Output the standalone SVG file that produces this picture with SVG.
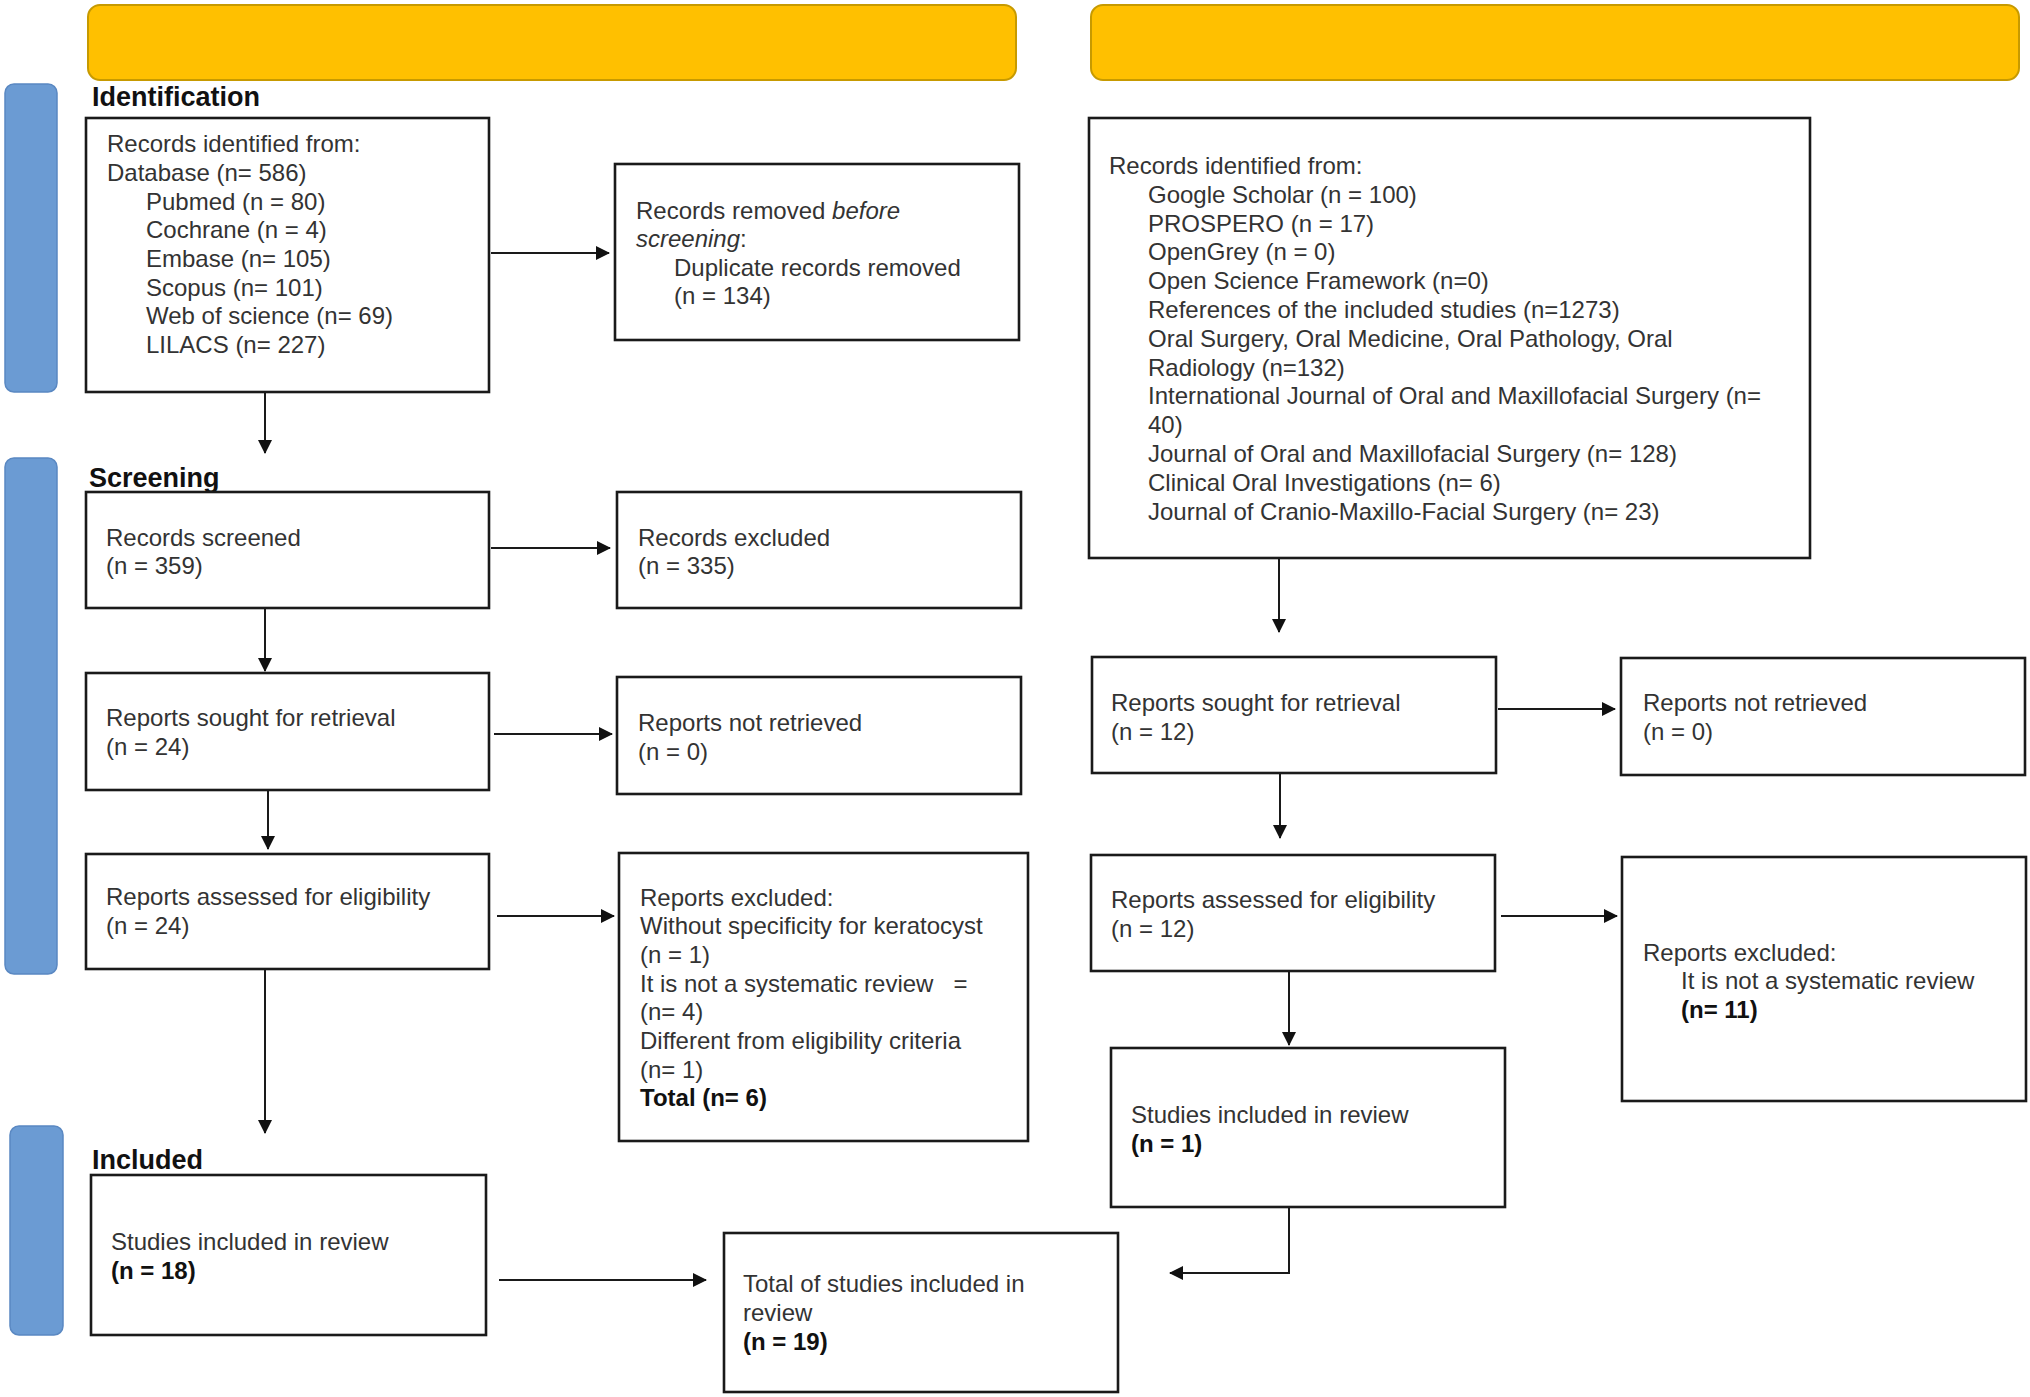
<svg xmlns="http://www.w3.org/2000/svg" width="2030" height="1397" viewBox="0 0 2030 1397">
<defs>
<marker id="ah" markerUnits="userSpaceOnUse" markerWidth="16" markerHeight="16" refX="13" refY="7" orient="auto">
<path d="M0,0 L14,7 L0,14 z" fill="#111"/>
</marker>
<style>
.box{fill:#fff;stroke:#1a1a1a;stroke-width:2.6}
.ybar{fill:#FFC000;stroke:#C79A00;stroke-width:2}
.bbar{fill:#6B9BD3;stroke:#5A88C2;stroke-width:1.5}
.t{font-family:"Liberation Sans",Arial,sans-serif;font-size:24px;fill:#333}
.b{font-weight:bold;fill:#111}
.lab{font-family:"Liberation Sans",Arial,sans-serif;font-size:27px;font-weight:bold;fill:#111}
.c{fill:none;stroke:#1a1a1a;stroke-width:2;marker-end:url(#ah)}
.c0{fill:none;stroke:#1a1a1a;stroke-width:2}
</style>
</defs>
<rect width="2030" height="1397" fill="#fff"/>

<g id="headers">
<rect class="ybar" x="88" y="5" width="928" height="75" rx="12"/>
<rect class="ybar" x="1091" y="5" width="928" height="75" rx="12"/>
</g>
<g id="phases">
<rect class="bbar" x="5" y="84" width="52" height="308" rx="9"/>
<rect class="bbar" x="5" y="458" width="52" height="516" rx="9"/>
<rect class="bbar" x="10" y="1126" width="53" height="209" rx="9"/>
<text class="lab" x="92" y="106">Identification</text>
<text class="lab" x="89" y="487">Screening</text>
<text class="lab" x="92" y="1169">Included</text>
</g>

<g id="connectors">
<path class="c" d="M491,253 H609"/>
<path class="c" d="M265,392 V453"/>
<path class="c" d="M491,548 H610"/>
<path class="c" d="M265,608 V671"/>
<path class="c" d="M494,734 H612"/>
<path class="c" d="M268,790 V849"/>
<path class="c" d="M497,916 H614"/>
<path class="c" d="M265,969 V1133"/>
<path class="c" d="M499,1280 H706"/>
<path class="c" d="M1279,558 V632"/>
<path class="c" d="M1498,709 H1615"/>
<path class="c" d="M1280,773 V838"/>
<path class="c" d="M1501,916 H1617"/>
<path class="c" d="M1289,972 V1045"/>
<path class="c" d="M1289,1207 V1273 H1170"/>
</g>

<g id="records-identified-db">
<rect class="box" x="86" y="118" width="403" height="274"/>
<text class="t" x="107" y="152">Records identified from:</text>
<text class="t" x="107" y="181">Database (n= 586)</text>
<text class="t" x="146" y="210">Pubmed (n = 80)</text>
<text class="t" x="146" y="238">Cochrane (n = 4)</text>
<text class="t" x="146" y="267">Embase (n= 105)</text>
<text class="t" x="146" y="296">Scopus (n= 101)</text>
<text class="t" x="146" y="324">Web of science (n= 69)</text>
<text class="t" x="146" y="353">LILACS (n= 227)</text>
</g>

<g id="records-removed">
<rect class="box" x="615" y="164" width="404" height="176"/>
<text class="t" x="636" y="219">Records removed <tspan font-style="italic">before</tspan></text>
<text class="t" x="636" y="247"><tspan font-style="italic">screening</tspan>:</text>
<text class="t" x="674" y="276">Duplicate records removed</text>
<text class="t" x="674" y="304">(n = 134)</text>
</g>

<g id="records-screened">
<rect class="box" x="86" y="492" width="403" height="116"/>
<text class="t" x="106" y="546">Records screened</text>
<text class="t" x="106" y="574">(n = 359)</text>
</g>

<g id="records-excluded">
<rect class="box" x="617" y="492" width="404" height="116"/>
<text class="t" x="638" y="546">Records excluded</text>
<text class="t" x="638" y="574">(n = 335)</text>
</g>

<g id="reports-sought-left">
<rect class="box" x="86" y="673" width="403" height="117"/>
<text class="t" x="106" y="726">Reports sought for retrieval</text>
<text class="t" x="106" y="755">(n = 24)</text>
</g>

<g id="reports-not-retrieved-left">
<rect class="box" x="617" y="677" width="404" height="117"/>
<text class="t" x="638" y="731">Reports not retrieved</text>
<text class="t" x="638" y="760">(n = 0)</text>
</g>

<g id="reports-assessed-left">
<rect class="box" x="86" y="854" width="403" height="115"/>
<text class="t" x="106" y="905">Reports assessed for eligibility</text>
<text class="t" x="106" y="934">(n = 24)</text>
</g>

<g id="reports-excluded-left">
<rect class="box" x="619" y="853" width="409" height="288"/>
<text class="t" x="640" y="906">Reports excluded:</text>
<text class="t" x="640" y="934">Without specificity for keratocyst</text>
<text class="t" x="640" y="963">(n = 1)</text>
<text class="t" x="640" y="992" style="white-space:pre">It is not a systematic review   =</text>
<text class="t" x="640" y="1020">(n= 4)</text>
<text class="t" x="640" y="1049">Different from eligibility criteria</text>
<text class="t" x="640" y="1078">(n= 1)</text>
<text class="t b" x="640" y="1106">Total (n= 6)</text>
</g>

<g id="studies-included-left">
<rect class="box" x="91" y="1175" width="395" height="160"/>
<text class="t" x="111" y="1250">Studies included in review</text>
<text class="t b" x="111" y="1279">(n = 18)</text>
</g>

<g id="total-included">
<rect class="box" x="724" y="1233" width="394" height="159"/>
<text class="t" x="743" y="1292">Total of studies included in</text>
<text class="t" x="743" y="1321">review</text>
<text class="t b" x="743" y="1350">(n = 19)</text>
</g>

<g id="records-identified-other">
<rect class="box" x="1089" y="118" width="721" height="440"/>
<text class="t" x="1109" y="174">Records identified from:</text>
<text class="t" x="1148" y="203">Google Scholar (n = 100)</text>
<text class="t" x="1148" y="232">PROSPERO (n = 17)</text>
<text class="t" x="1148" y="260">OpenGrey (n = 0)</text>
<text class="t" x="1148" y="289">Open Science Framework (n=0)</text>
<text class="t" x="1148" y="318">References of the included studies (n=1273)</text>
<text class="t" x="1148" y="347">Oral Surgery, Oral Medicine, Oral Pathology, Oral</text>
<text class="t" x="1148" y="376">Radiology (n=132)</text>
<text class="t" x="1148" y="404">International Journal of Oral and Maxillofacial Surgery (n=</text>
<text class="t" x="1148" y="433">40)</text>
<text class="t" x="1148" y="462">Journal of Oral and Maxillofacial Surgery (n= 128)</text>
<text class="t" x="1148" y="491">Clinical Oral Investigations (n= 6)</text>
<text class="t" x="1148" y="520">Journal of Cranio-Maxillo-Facial Surgery (n= 23)</text>
</g>

<g id="reports-sought-right">
<rect class="box" x="1092" y="657" width="404" height="116"/>
<text class="t" x="1111" y="711">Reports sought for retrieval</text>
<text class="t" x="1111" y="740">(n = 12)</text>
</g>

<g id="reports-not-retrieved-right">
<rect class="box" x="1621" y="658" width="404" height="117"/>
<text class="t" x="1643" y="711">Reports not retrieved</text>
<text class="t" x="1643" y="740">(n = 0)</text>
</g>

<g id="reports-assessed-right">
<rect class="box" x="1091" y="855" width="404" height="116"/>
<text class="t" x="1111" y="908">Reports assessed for eligibility</text>
<text class="t" x="1111" y="937">(n = 12)</text>
</g>

<g id="reports-excluded-right">
<rect class="box" x="1622" y="857" width="404" height="244"/>
<text class="t" x="1643" y="961">Reports excluded:</text>
<text class="t" x="1681" y="989">It is not a systematic review</text>
<text class="t b" x="1681" y="1018">(n= 11)</text>
</g>

<g id="studies-included-right">
<rect class="box" x="1111" y="1048" width="394" height="159"/>
<text class="t" x="1131" y="1123">Studies included in review</text>
<text class="t b" x="1131" y="1152">(n = 1)</text>
</g>
</svg>
